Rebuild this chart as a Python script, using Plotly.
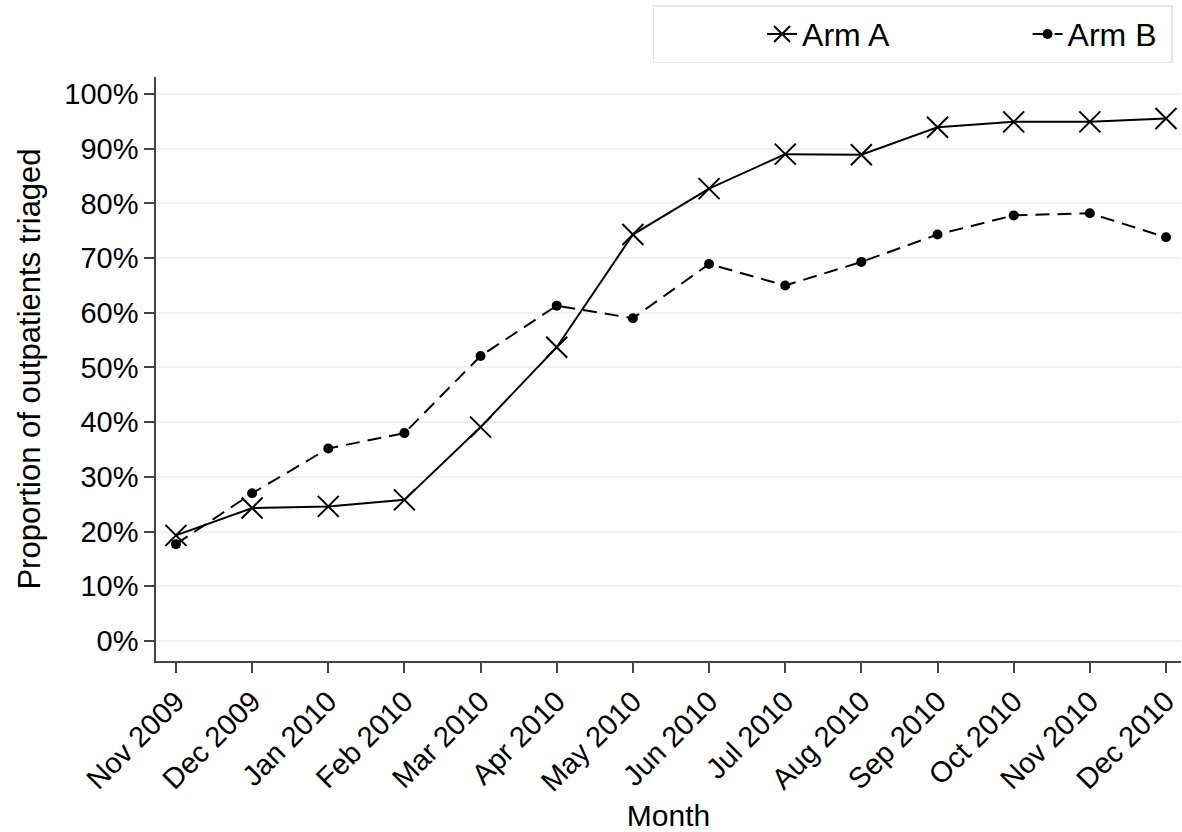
import plotly.graph_objects as go

months = ["Nov 2009", "Dec 2009", "Jan 2010", "Feb 2010", "Mar 2010", "Apr 2010",
          "May 2010", "Jun 2010", "Jul 2010", "Aug 2010", "Sep 2010", "Oct 2010",
          "Nov 2010", "Dec 2010"]
arm_a = [19.3, 24.3, 24.6, 25.8, 39.1, 53.7, 74.3, 82.7, 89.0, 88.9, 93.9, 94.9, 94.9, 95.5]
arm_b = [17.7, 27.0, 35.2, 38.0, 52.1, 61.3, 59.0, 68.9, 65.0, 69.3, 74.3, 77.8, 78.2, 73.8]
y_ticks = [0, 10, 20, 30, 40, 50, 60, 70, 80, 90, 100]
y_labels = [f"{v}%" for v in y_ticks]

idx = list(range(len(months)))
FONT = "Liberation Sans, Arial, sans-serif"
NB = "\u00a0"

fig = go.Figure()
fig.add_trace(go.Scatter(
    x=idx, y=arm_a, name="Arm A" + NB * 15, mode="lines+markers",
    line=dict(color="black", width=2),
    marker=dict(symbol="x-thin", size=21, color="black",
                line=dict(color="black", width=2)),
))
fig.add_trace(go.Scatter(
    x=idx, y=arm_b, name="Arm B" + NB, mode="lines+markers",
    line=dict(color="black", width=2, dash="14px,8px"),
    marker=dict(symbol="circle", size=10, color="black"),
))

fig.update_layout(
    width=1182, height=832,
    margin=dict(l=156, r=1, t=77, b=171),
    paper_bgcolor="white", plot_bgcolor="white",
    font=dict(family=FONT, size=29, color="black"),
    showlegend=True,
    legend=dict(
        orientation="h", x=0.992, xanchor="right", y=1.123, yanchor="top",
        bordercolor="#dfeaee", borderwidth=1.5, bgcolor="white",
        font=dict(size=32),
        title=dict(text=NB * 11, side="left", font=dict(size=32)),
    ),
    xaxis=dict(
        range=[-0.262, 13.197], tickmode="array", tickvals=idx, ticktext=months,
        tickangle=-45, ticks="outside", ticklen=10, tickwidth=1.5, tickcolor="#444",
        showline=True, linecolor="#444", linewidth=1.5, showgrid=False, zeroline=False,
        automargin=False,
        title=dict(text="Month", font=dict(size=30), standoff=10),
    ),
    yaxis=dict(
        range=[-3.66, 103.1], tickmode="array", tickvals=y_ticks, ticktext=y_labels,
        ticks="outside", ticklen=10, tickwidth=1.5, tickcolor="#444",
        showline=True, linecolor="#444", linewidth=1.5,
        showgrid=True, gridcolor="#eaf2f3", gridwidth=2, zeroline=False,
        automargin=False,
        title=dict(text="Proportion of outpatients triaged", font=dict(size=31), standoff=14),
    ),
)

fig.write_html("out.html", config={"displayModeBar": False},
               post_script="document.body.style.margin='0';")
